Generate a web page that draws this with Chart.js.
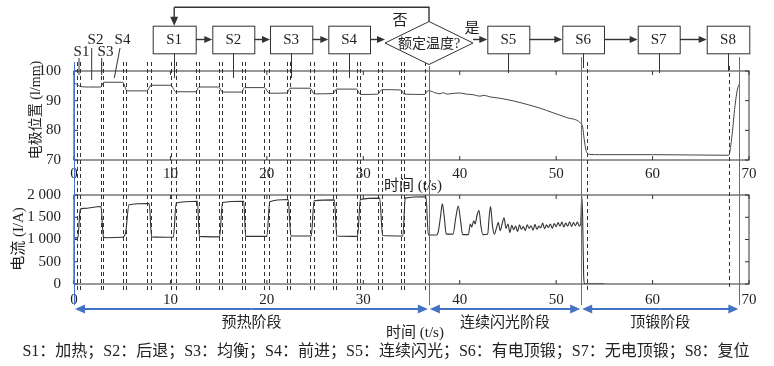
<!DOCTYPE html>
<html>
<head>
<meta charset="utf-8">
<script src="https://cdn.jsdelivr.net/npm/chart.js@4.4.0/dist/chart.umd.min.js"></script>
<style>
    body { margin: 0; background: #fff; }
    #wrap { position: relative; width: 774px; height: 366px; background: #fff; }
    #wrap canvas { position: absolute; left: 0; top: 0; }
</style>
</head>
<body>
<div id="wrap">
    <canvas id="posChart" width="774" height="366"></canvas>
    <canvas id="curChart" width="774" height="366"></canvas>
</div>
<script>
// Trục và nhãn
const xTicks = [0, 10, 20, 30, 40, 50, 60, 70];
const posTicks = [70, 80, 90, 100];
const curTicks = [0, 500, 1000, 1500, 2000];

// Vị trí điện cực (l/mm) theo thời gian (t/s)
const posTime = [0, 0.3, 0.6, 1.5, 2.75, 3.1, 5.05, 5.5, 7.55, 8.0,
    10.05, 10.55, 12.65, 12.95, 15.0, 15.4, 17.4, 17.7, 19.75, 20.25,
    22.1, 22.4, 24.5, 24.9, 26.9, 27.2, 29.3, 29.7, 31.5, 31.9,
    33.9, 34.25, 36.4, 36.6, 36.9, 37.4, 37.95, 38.3, 38.65, 39.2,
    40.0, 40.7, 41.4, 42.1, 42.5, 43.1, 44.2, 45.6, 46.9, 48.3,
    49.7, 51.1, 52.5, 52.75, 52.9, 53.1, 53.45, 54.5, 60, 67.9,
    68.2, 68.55, 68.8, 69.0];
const posValue = [95.7, 95.6, 94.8, 94.6, 94.6, 96.2, 96.2, 93.3, 93.3, 95.2,
    95.2, 93.0, 93.0, 94.6, 94.6, 92.9, 92.9, 94.4, 94.4, 92.5,
    92.6, 94.2, 94.2, 92.3, 92.4, 93.9, 93.9, 92.1, 92.2, 93.7,
    93.6, 92.2, 92.1, 93.2, 93.3, 92.7, 92.3, 92.7, 92.2, 92.4,
    92.6, 92.2, 92.0, 91.5, 91.8, 91.3, 90.8, 89.9, 88.8, 87.5,
    85.9, 84.3, 82.5, 81.1, 77.2, 73.3, 71.9, 71.8, 71.8, 71.6,
    77.2, 88.3, 93.9, 95.6];

// Dòng điện (I/A) theo thời gian (t/s)
const curTime = [0, 0.4, 0.65, 1.0, 2.8, 3.05, 3.3, 5.0, 5.35, 5.7,
    7.8, 8.05, 10.3, 10.6, 12.8, 13.0, 15.1, 15.4, 17.6, 17.8,
    20.0, 20.3, 22.2, 22.5, 24.6, 24.9, 27.0, 27.25, 29.4, 29.7,
    31.7, 32.0, 34.1, 34.35, 36.5, 36.75, 37.6, 37.8, 38.0, 38.2,
    38.4, 38.6, 39.3, 39.6, 39.85, 40.1, 40.3, 40.9, 41.1, 41.25,
    41.45, 41.6, 41.8, 42.0, 42.2, 42.4, 42.9, 43.05, 43.2, 43.4,
    43.6, 43.8, 44.0, 44.2, 44.4, 44.6, 44.8, 45.0, 45.2, 45.4,
    45.6, 45.8, 46.0, 46.2, 46.4, 46.6, 46.8, 47.0, 47.2, 47.4,
    47.6, 47.8, 48.0, 48.2, 48.4, 48.6, 48.8, 49.0, 49.2, 49.4,
    49.6, 49.8, 50.0, 50.2, 50.4, 50.6, 50.8, 51.0, 51.2, 51.4,
    51.6, 51.8, 52.0, 52.2, 52.4, 52.55, 52.65, 52.75, 52.85, 52.95,
    55];
const curValue = [1030, 1050, 1680, 1700, 1740, 1060, 1040, 1050, 1150, 1780,
    1810, 1060, 1050, 1820, 1860, 1070, 1060, 1830, 1860, 1070,
    1070, 1850, 1900, 1080, 1080, 1870, 1890, 1080, 1070, 1900,
    1930, 1090, 1080, 1930, 1960, 1100, 1100, 1200, 1500, 1800,
    1500, 1120, 1120, 1500, 1750, 1400, 1110, 1110, 1350, 1280,
    1420, 1350, 1550, 1650, 1300, 1110, 1120, 1500, 1740, 1300,
    1120, 1250, 1380, 1200, 1350, 1490, 1250, 1350, 1160, 1320,
    1220, 1300, 1180, 1330, 1230, 1290, 1200, 1330, 1250, 1310,
    1210, 1340, 1230, 1300, 1260, 1370, 1240, 1330, 1270, 1350,
    1250, 1360, 1290, 1380, 1300, 1390, 1280, 1370, 1300, 1400,
    1290, 1380, 1310, 1390, 1300, 1350, 1980, 1500, 200, 0,
    0];

// Các mốc chuyển bước (đường nét đứt) và ranh giới giai đoạn (đường xanh)
const stepLines = [0.34, 0.62, 2.77, 3.04, 5.05, 5.39, 7.6, 7.95, 10.03, 10.58,
    12.65, 12.93, 15.0, 15.35, 17.42, 17.7, 19.7, 20.25, 22.1, 22.4,
    24.47, 24.9, 26.9, 27.17, 29.3, 29.66, 31.5, 31.9, 33.9, 34.2,
    36.4, 53.2, 67.96];
const stageBounds = [0, 36.8, 52.6, 69.0];
const stageNames = ['预热阶段', '连续闪光阶段', '顶锻阶段'];
const stepNames = ['S1', 'S2', 'S3', 'S4', 'S5', 'S6', 'S7', 'S8'];
const stepDesc = ['加热', '后退', '均衡', '前进', '连续闪光', '有电顶锻', '无电顶锻', '复位'];

const SERIF = "'Liberation Serif', 'Noto Sans CJK SC', serif";
const MIX = "'Liberation Serif', 'Noto Sans CJK SC', sans-serif";
const BLUE = '#4472c4';
const INK = '#222';

function toPoints(xs, ys) {
    return xs.map((x, i) => ({ x: x, y: ys[i] }));
}

function line(ctx, x1, y1, x2, y2) {
    ctx.beginPath();
    ctx.moveTo(x1, y1);
    ctx.lineTo(x2, y2);
    ctx.stroke();
}

// Vẽ mũi tên đặc ở đầu (x2, y2)
function arrow(ctx, x1, y1, x2, y2, head, half) {
    const a = Math.atan2(y2 - y1, x2 - x1);
    const c = Math.cos(a), s = Math.sin(a);
    line(ctx, x1, y1, x2 - c * head * 0.7, y2 - s * head * 0.7);
    ctx.beginPath();
    ctx.moveTo(x2, y2);
    ctx.lineTo(x2 - head * c + half * s, y2 - head * s - half * c);
    ctx.lineTo(x2 - head * c - half * s, y2 - head * s + half * c);
    ctx.closePath();
    ctx.fill();
}

// Khung và vạch chia hướng vào trong
const framePlugin = {
    id: 'frame',
    afterDatasetsDraw(chart) {
        const { ctx, chartArea: a, scales } = chart;
        ctx.save();
        ctx.strokeStyle = '#333';
        ctx.lineWidth = 1;
        ctx.strokeRect(a.left, a.top, a.right - a.left, a.bottom - a.top);
        scales.x.ticks.forEach(t => {
            const p = scales.x.getPixelForValue(t.value);
            line(ctx, p, a.bottom, p, a.bottom - 4);
            line(ctx, p, a.top, p, a.top + 4);
        });
        scales.y.ticks.forEach(t => {
            const p = scales.y.getPixelForValue(t.value);
            line(ctx, a.left, p, a.left + 4, p);
            line(ctx, a.right, p, a.right - 4, p);
        });
        ctx.restore();
    }
};

// Sơ đồ khối, đường đánh dấu, mũi tên giai đoạn và chú thích
const decorPlugin = {
    id: 'decor',
    afterDraw(chart) {
        const ctx = chart.ctx;
        const px = t => chart.scales.x.getPixelForValue(t);
        ctx.save();

        // đường nét đứt
        ctx.strokeStyle = '#333';
        ctx.lineWidth = 1;
        ctx.setLineDash([4, 3]);
        stepLines.forEach((t, i) => {
            const x = Math.round(px(t)) + 0.5;
            line(ctx, x, i === stepLines.length - 1 ? 66 : 62, x, 290);
        });
        ctx.setLineDash([]);

        // đường xanh ranh giới giai đoạn
        ctx.strokeStyle = BLUE;
        const blueTop = [62, 66, 57, 57];
        stageBounds.forEach((t, i) => {
            const x = Math.round(px(t)) + 0.5;
            line(ctx, x, blueTop[i], x, 305);
        });

        // mũi tên hai đầu của giai đoạn
        ctx.fillStyle = BLUE;
        ctx.lineWidth = 2;
        const ay = 309;
        for (let i = 0; i < stageNames.length; i++) {
            const x1 = px(stageBounds[i]) + 1, x2 = px(stageBounds[i + 1]) - 1;
            const m = (x1 + x2) / 2;
            arrow(ctx, m, ay, x1, ay, 10, 4.5);
            arrow(ctx, m, ay, x2, ay, 10, 4.5);
            ctx.fillStyle = INK;
            ctx.font = '15px ' + MIX;
            ctx.textAlign = 'center';
            ctx.textBaseline = 'middle';
            ctx.fillText(stageNames[i], m, 323);
            ctx.fillStyle = BLUE;
        }

        // tiêu đề trục
        ctx.fillStyle = INK;
        ctx.font = '15px ' + MIX;
        ctx.textAlign = 'center';
        ctx.textBaseline = 'middle';
        ctx.fillText('时间 (t/s)', 413, 186);
        ctx.fillText('时间 (t/s)', 415, 333);
        ctx.save();
        ctx.translate(36, 110);
        ctx.rotate(-Math.PI / 2);
        ctx.font = '14px ' + MIX;
        ctx.fillText('电极位置 (l/mm)', 0, 0);
        ctx.restore();
        ctx.save();
        ctx.translate(19, 239);
        ctx.rotate(-Math.PI / 2);
        ctx.fillText('电流 (I/A)', 0, 0);
        ctx.restore();

        // chú thích các bước
        ctx.font = '16px ' + MIX;
        const legend = stepNames.map((n, i) => n + '：' + stepDesc[i]).join('；');
        ctx.fillText(legend, 386, 352);

        // sơ đồ khối
        const boxTop = 25.7, boxH = 27.6, midY = 39.5;
        const boxes = [
            { x: 152.7, w: 43 }, { x: 212.3, w: 42 }, { x: 270, w: 42.3 }, { x: 328.3, w: 41.7 },
            { x: 487.3, w: 42 }, { x: 562.3, w: 41.7 }, { x: 637.7, w: 42 }, { x: 706.7, w: 42.6 }
        ];
        const dia = { cx: 429, cy: 43, hw: 44, hh: 21.5 };
        ctx.strokeStyle = '#333';
        ctx.fillStyle = '#333';
        ctx.lineWidth = 1.4;
        for (let i = 0; i < 3; i++) arrow(ctx, boxes[i].x + boxes[i].w, midY, boxes[i + 1].x, midY, 8, 3.5);
        arrow(ctx, boxes[3].x + boxes[3].w, midY, dia.cx - dia.hw, midY, 8, 3.5);
        arrow(ctx, dia.cx + dia.hw, midY, boxes[4].x, midY, 8, 3.5);
        for (let i = 4; i < 7; i++) arrow(ctx, boxes[i].x + boxes[i].w, midY, boxes[i + 1].x, midY, 8, 3.5);
        // nhánh "否" quay lại S1
        const s1c = boxes[0].x + boxes[0].w / 2;
        ctx.beginPath();
        ctx.moveTo(dia.cx, dia.cy - dia.hh);
        ctx.lineTo(dia.cx, 7.3);
        ctx.lineTo(s1c, 7.3);
        ctx.stroke();
        arrow(ctx, s1c, 7.3, s1c, boxTop, 9, 4);

        ctx.lineWidth = 1;
        ctx.beginPath();
        ctx.moveTo(dia.cx - dia.hw, dia.cy);
        ctx.lineTo(dia.cx, dia.cy - dia.hh);
        ctx.lineTo(dia.cx + dia.hw, dia.cy);
        ctx.lineTo(dia.cx, dia.cy + dia.hh);
        ctx.closePath();
        ctx.fillStyle = '#fff';
        ctx.fill();
        ctx.stroke();

        ctx.fillStyle = INK;
        ctx.font = '14px ' + MIX;
        ctx.fillText('额定温度?', dia.cx, dia.cy + 1);
        ctx.font = '15px ' + MIX;
        ctx.fillText('否', 400, 21);
        ctx.fillText('是', 472, 29);

        // hộp S1..S8 và đường chỉ xuống đồ thị
        const pointerEnd = [78, 78, 78, 78, 73, 68, 73, 71];
        boxes.forEach((b, i) => {
            ctx.fillStyle = '#fff';
            ctx.fillRect(b.x, boxTop, b.w, boxH);
            ctx.strokeRect(b.x + 0.5, boxTop + 0.5, b.w, boxH);
            ctx.fillStyle = INK;
            ctx.font = '15px ' + SERIF;
            ctx.fillText(stepNames[i], b.x + b.w / 2, boxTop + boxH / 2 + 1);
            const cx = Math.round(b.x + b.w / 2) + 0.5;
            line(ctx, cx, boxTop + boxH, cx, pointerEnd[i]);
        });

        // nhãn S1-S4 ở chu kỳ đầu
        const tags = [
            { x: 81.5, y: 52, p: [79, 58, 79, 75] },
            { x: 95.5, y: 40, p: [91.7, 48, 91.7, 80] },
            { x: 105.5, y: 52, p: [101.7, 58, 101.7, 75] },
            { x: 122.5, y: 40, p: [120, 48, 114.3, 78] }
        ];
        ctx.font = '15px ' + SERIF;
        tags.forEach((g, i) => {
            ctx.fillText(stepNames[i], g.x, g.y);
            line(ctx, g.p[0], g.p[1], g.p[2], g.p[3]);
        });

        ctx.restore();
    }
};

function makeScales(yMin, yMax, yTicks, fmt, xPad) {
    const tickFont = { family: SERIF, size: 15 };
    return {
        x: {
            type: 'linear', min: 0, max: 70,
            afterBuildTicks: s => { s.ticks = xTicks.map(v => ({ value: v })); },
            afterFit: s => { s.height = 24; },
            grid: { display: false }, border: { display: false },
            ticks: { padding: xPad, color: INK, font: tickFont, maxRotation: 0, autoSkip: false }
        },
        y: {
            min: yMin, max: yMax,
            afterBuildTicks: s => { s.ticks = yTicks.map(v => ({ value: v })); },
            afterFit: s => { s.width = 74; },
            grid: { display: false }, border: { display: false },
            ticks: { padding: 5, color: INK, font: tickFont, callback: fmt }
        }
    };
}

const common = {
    responsive: false,
    animation: false,
    events: [],
    plugins: { legend: { display: false }, tooltip: { enabled: false } }
};

// Biểu đồ vị trí điện cực
new Chart(document.getElementById('posChart').getContext('2d'), {
    type: 'line',
    data: {
        datasets: [{
            data: toPoints(posTime, posValue),
            borderColor: '#444', borderWidth: 1, pointRadius: 0,
            cubicInterpolationMode: 'monotone'
        }]
    },
    options: Object.assign({}, common, {
        layout: { padding: { top: 71, right: 25, bottom: 182, left: 0 } },
        scales: makeScales(70, 100, posTicks, v => String(v), -3)
    }),
    plugins: [framePlugin]
});

// Biểu đồ dòng điện
new Chart(document.getElementById('curChart').getContext('2d'), {
    type: 'line',
    data: {
        datasets: [{
            data: toPoints(curTime, curValue),
            borderColor: '#333', borderWidth: 1.1, pointRadius: 0,
            cubicInterpolationMode: 'monotone'
        }]
    },
    options: Object.assign({}, common, {
        layout: { padding: { top: 195, right: 25, bottom: 58, left: 0 } },
        scales: makeScales(0, 2000, curTicks,
            v => v >= 1000 ? String(v).replace(/(\d)(\d{3})$/, '$1 $2') : String(v), -1)
    }),
    plugins: [framePlugin, decorPlugin]
});
</script>
</body>
</html>
